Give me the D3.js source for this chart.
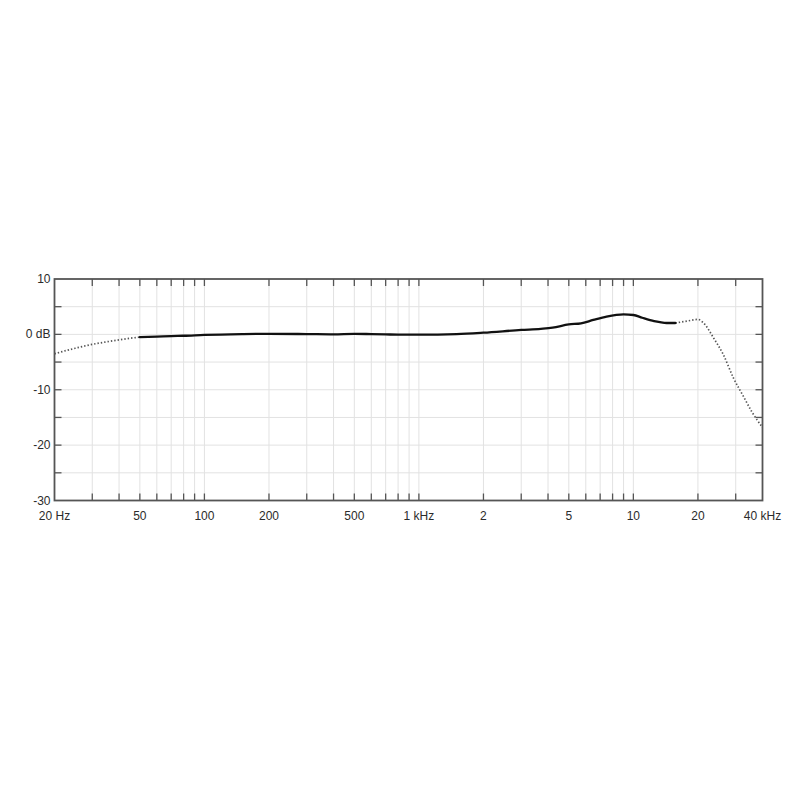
<!DOCTYPE html>
<html>
<head>
<meta charset="utf-8">
<script src="https://cdn.jsdelivr.net/npm/d3@7"></script>
<style>
  body { margin: 0; background: #fff; }
  text { font-family: "Liberation Sans", Arial, sans-serif; font-size: 12px; fill: #2b2b2b; }
</style>
</head>
<body>
<div id="chart"></div>
<script>
// frequency response
var lowFreq = [20, 25, 30, 35, 40, 45, 50];
var lowDb = [-3.5, -2.5, -1.8, -1.35, -1.0, -0.7, -0.5];

var mainFreq = [50, 60, 70, 80, 100, 150, 200, 300, 400, 500, 600, 700, 800, 1000, 1500, 2000, 3000, 3700, 4200, 5000, 5700, 6500, 7500, 9000, 10000, 11000, 12500, 13300, 14300, 15700];
var mainDb = [-0.5, -0.4, -0.3, -0.25, -0.1, 0.05, 0.1, 0.05, 0, 0.1, 0.05, 0, -0.05, -0.05, 0.05, 0.3, 0.8, 1.0, 1.2, 1.8, 2.0, 2.6, 3.2, 3.6, 3.5, 3.0, 2.4, 2.2, 2.05, 2.05];

var highFreq = [15700, 17800, 20000, 21200, 23700, 26300, 29300, 32600, 35700, 40000];
var highDb = [2.05, 2.4, 2.7, 2.1, -0.7, -3.7, -7.9, -11.2, -14.0, -16.8];

var gridFreq = [30, 40, 50, 60, 70, 80, 90, 100, 200, 300, 400, 500, 600, 700, 800, 900,
                1000, 2000, 3000, 4000, 5000, 6000, 7000, 8000, 9000, 10000, 20000, 30000];
var labelFreq = [20, 50, 100, 200, 500, 1000, 2000, 5000, 10000, 20000, 40000];
var labelText = ["20 Hz", "50", "100", "200", "500", "1 kHz", "2", "5", "10", "20", "40 kHz"];
var dbTicks = [10, 5, 0, -5, -10, -15, -20, -25, -30];
var dbLabels = {"10": "10", "0": "0 dB", "-10": "-10", "-20": "-20", "-30": "-30"};

var margin = {top: 279, right: 37.5, bottom: 299.5, left: 54.5},
    width = 800 - margin.left - margin.right,
    height = 800 - margin.top - margin.bottom;

var svg = d3.select("#chart")
    .append("svg")
        .attr("width", 800)
        .attr("height", 800)
    .append("g")
        .attr("transform", "translate(" + margin.left + "," + margin.top + ")");

var x = d3.scaleLog().domain([20, 40000]).range([0, width]);
var y = d3.scaleLinear().domain([-30, 10]).range([height, 0]);

// grid
svg.append("g").selectAll("line.v")
    .data(gridFreq).enter().append("line")
    .attr("x1", function(d) { return x(d); }).attr("x2", function(d) { return x(d); })
    .attr("y1", 0).attr("y2", height)
    .attr("stroke", "#e2e2e2").attr("stroke-width", 1);

svg.append("g").selectAll("line.h")
    .data(dbTicks.slice(1, -1)).enter().append("line")
    .attr("x1", 0).attr("x2", width)
    .attr("y1", function(d) { return y(d); }).attr("y2", function(d) { return y(d); })
    .attr("stroke", "#e2e2e2").attr("stroke-width", 1);

// inward ticks on all four sides
var tickLen = 7;
var ticks = svg.append("g").attr("stroke", "#555").attr("stroke-width", 1.3);
gridFreq.forEach(function(f) {
    ticks.append("line").attr("x1", x(f)).attr("x2", x(f)).attr("y1", 0).attr("y2", tickLen);
    ticks.append("line").attr("x1", x(f)).attr("x2", x(f)).attr("y1", height).attr("y2", height - tickLen);
});
dbTicks.slice(1, -1).forEach(function(v) {
    ticks.append("line").attr("x1", 0).attr("x2", tickLen).attr("y1", y(v)).attr("y2", y(v));
    ticks.append("line").attr("x1", width).attr("x2", width - tickLen).attr("y1", y(v)).attr("y2", y(v));
});

// curves
function toPts(fs, vs) { return fs.map(function(f, i) { return [f, vs[i]]; }); }
var line = d3.line()
    .x(function(d) { return x(d[0]); })
    .y(function(d) { return y(d[1]); })
    .curve(d3.curveMonotoneX);

svg.append("path").datum(toPts(lowFreq, lowDb))
    .attr("d", line).attr("fill", "none")
    .attr("stroke", "#555").attr("stroke-width", 1.7).attr("stroke-dasharray", "1.4,2");
svg.append("path").datum(toPts(highFreq, highDb))
    .attr("d", line).attr("fill", "none")
    .attr("stroke", "#555").attr("stroke-width", 1.7).attr("stroke-dasharray", "1.4,2");
svg.append("path").datum(toPts(mainFreq, mainDb))
    .attr("d", line).attr("fill", "none")
    .attr("stroke", "#111").attr("stroke-width", 2.3).attr("stroke-linecap", "round");

// frame
svg.append("rect")
    .attr("width", width).attr("height", height)
    .attr("fill", "none").attr("stroke", "#555").attr("stroke-width", 1.8);

// labels
svg.append("g").selectAll("text")
    .data(labelFreq).enter().append("text")
    .attr("x", function(d) { return x(d); })
    .attr("y", height + 19)
    .attr("text-anchor", "middle")
    .text(function(d, i) { return labelText[i]; });

svg.append("g").selectAll("text")
    .data([10, 0, -10, -20, -30]).enter().append("text")
    .attr("x", -4)
    .attr("y", function(d) { return y(d) + 4; })
    .attr("text-anchor", "end")
    .text(function(d) { return dbLabels[d]; });
</script>
</body>
</html>
